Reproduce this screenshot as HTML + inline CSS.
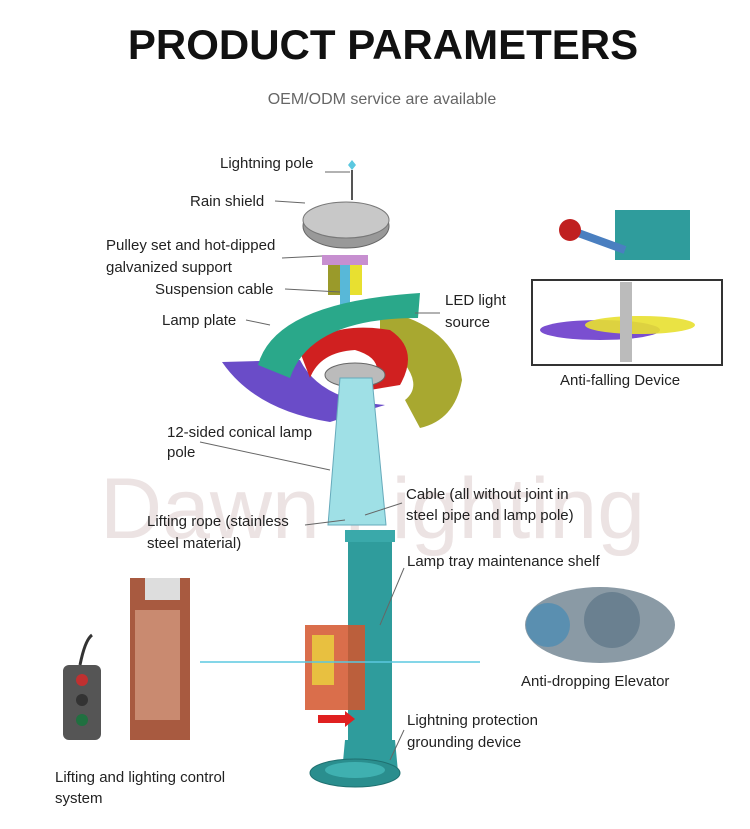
<!DOCTYPE html>
<html><head><meta charset="utf-8"><style>
body{margin:0;background:#fff;}
svg{display:block;font-family:"Liberation Sans",Arial,sans-serif;}
.l{font-size:15px;fill:#222;}
</style></head><body>
<svg width="750" height="829" viewBox="0 0 750 829">
<text x="383" y="59" text-anchor="middle" font-size="42" font-weight="bold" fill="#111">PRODUCT PARAMETERS</text>
<text x="382" y="104" text-anchor="middle" font-size="16" fill="#666">OEM/ODM service are available</text>

<text x="100" y="538" font-size="86" fill="#ece3e3">Dawn Lighting</text>

<line x1="352" y1="170" x2="352" y2="200" stroke="#555" stroke-width="2"/>
<path d="M352 160 l4 5 -4 5 -4 -5z" fill="#5bc8e0"/>
<ellipse cx="346" cy="226" rx="43" ry="22" fill="#999" stroke="#666"/>
<ellipse cx="346" cy="220" rx="43" ry="18" fill="#c8c8c8" stroke="#777"/>
<rect x="322" y="255" width="46" height="10" fill="#c78fd0"/>
<rect x="328" y="265" width="12" height="30" fill="#9a9a2a"/>
<rect x="350" y="265" width="12" height="30" fill="#e8e030"/>
<rect x="340" y="265" width="10" height="40" fill="#58b8d8"/>
<path d="M222 362 L300 360 Q320 400 385 405 L330 422 Q255 410 222 362z" fill="#6a4cc8"/>
<path d="M380 310 Q455 325 462 380 Q455 420 420 428 L405 400 Q430 380 380 340z" fill="#a8a830"/>
<path d="M300 352 Q330 320 390 330 Q420 350 400 385 L370 390 Q390 360 355 350 Q320 352 310 378z" fill="#d02020"/>
<path d="M258 365 Q275 302 420 293 L418 318 Q310 318 290 378z" fill="#2aa88a"/>
<ellipse cx="355" cy="375" rx="30" ry="12" fill="#bbb" stroke="#666"/>
<path d="M340 378 L372 378 L386 525 L328 525z" fill="#9fe0e6" stroke="#6ab" />
<rect x="348" y="530" width="44" height="240" fill="#2f9c9c"/>
<rect x="345" y="530" width="50" height="12" fill="#3aa9aa"/>
<path d="M345 740 L395 740 L398 772 L342 772z" fill="#2f9c9c"/>
<ellipse cx="355" cy="773" rx="45" ry="14" fill="#2a8e8e" stroke="#1f7070"/>
<ellipse cx="355" cy="770" rx="30" ry="8" fill="#3fb0b0"/>
<rect x="305" y="625" width="60" height="85" fill="#d4552c" opacity="0.85"/>
<rect x="312" y="635" width="22" height="50" fill="#e8c040"/>
<path d="M318 715 L345 715 l0 -4 10 8 -10 8 0 -4 -27 0z" fill="#e02020"/>
<line x1="200" y1="662" x2="480" y2="662" stroke="#5bc8e0" stroke-width="1.5"/>

<g stroke="#666" stroke-width="1">
<line x1="325" y1="172" x2="350" y2="172"/>
<line x1="275" y1="201" x2="305" y2="203"/>
<line x1="282" y1="258" x2="322" y2="256"/>
<line x1="285" y1="289" x2="340" y2="292"/>
<line x1="246" y1="320" x2="270" y2="325"/>
<line x1="440" y1="313" x2="415" y2="313"/>
<line x1="200" y1="442" x2="330" y2="470"/>
<line x1="402" y1="503" x2="365" y2="515"/>
<line x1="305" y1="525" x2="345" y2="520"/>
<line x1="404" y1="568" x2="380" y2="625"/>
<line x1="404" y1="730" x2="390" y2="760"/>
</g>

<rect x="532" y="280" width="190" height="85" fill="#fff" stroke="#333" stroke-width="2"/>
<ellipse cx="600" cy="330" rx="60" ry="10" fill="#7a4fd0"/>
<ellipse cx="640" cy="325" rx="55" ry="9" fill="#e8e030" opacity="0.9"/>
<rect x="620" y="282" width="12" height="80" fill="#bbb"/>
<rect x="615" y="210" width="75" height="50" fill="#2f9c9c"/>
<line x1="570" y1="230" x2="625" y2="250" stroke="#4a7fc0" stroke-width="8"/>
<circle cx="570" cy="230" r="11" fill="#c02020"/>

<ellipse cx="600" cy="625" rx="75" ry="38" fill="#8a9aa5"/>
<circle cx="548" cy="625" r="22" fill="#5a8fb0"/>
<circle cx="612" cy="620" r="28" fill="#6a8090"/>

<rect x="63" y="665" width="38" height="75" rx="6" fill="#555"/>
<circle cx="82" cy="680" r="6" fill="#c03030"/>
<circle cx="82" cy="700" r="6" fill="#333"/>
<circle cx="82" cy="720" r="6" fill="#207040"/>
<path d="M80 665 Q85 640 92 635" stroke="#333" stroke-width="3" fill="none"/>
<rect x="130" y="578" width="60" height="162" fill="#a85a40"/>
<rect x="145" y="578" width="35" height="22" fill="#ddd"/>
<rect x="135" y="610" width="45" height="110" fill="#c98a70"/>

<text class="l" x="220" y="168">Lightning pole</text>
<text class="l" x="190" y="206">Rain shield</text>
<text class="l" x="106" y="250">Pulley set and hot-dipped</text>
<text class="l" x="106" y="272">galvanized support</text>
<text class="l" x="155" y="294">Suspension cable</text>
<text class="l" x="162" y="325">Lamp plate</text>
<text class="l" x="445" y="305">LED light</text>
<text class="l" x="445" y="327">source</text>
<text class="l" x="560" y="385">Anti-falling Device</text>
<text class="l" x="167" y="437">12-sided conical lamp</text>
<text class="l" x="167" y="457">pole</text>
<text class="l" x="406" y="499">Cable (all without joint in</text>
<text class="l" x="406" y="520">steel pipe and lamp pole)</text>
<text class="l" x="147" y="526">Lifting rope (stainless</text>
<text class="l" x="147" y="548">steel material)</text>
<text class="l" x="407" y="566">Lamp tray maintenance shelf</text>
<text class="l" x="521" y="686">Anti-dropping Elevator</text>
<text class="l" x="407" y="725">Lightning protection</text>
<text class="l" x="407" y="747">grounding device</text>
<text class="l" x="55" y="782">Lifting and lighting control</text>
<text class="l" x="55" y="803">system</text>
</svg>
</body></html>
